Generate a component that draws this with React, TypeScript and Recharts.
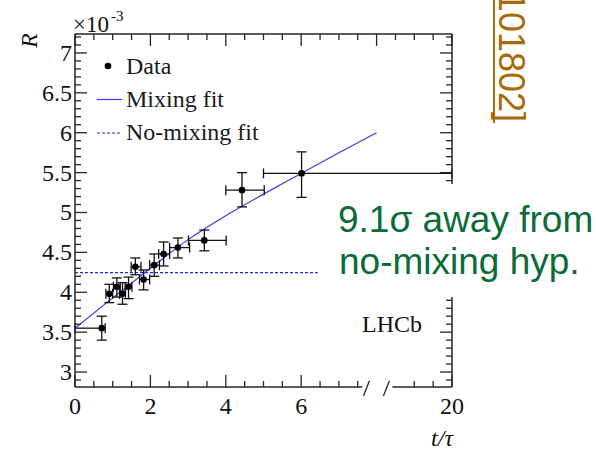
import React from "react";
import {
  ComposedChart,
  XAxis,
  YAxis,
  Scatter,
  Line,
  ErrorBar,
  ReferenceLine,
} from "recharts";

// Measured wrong-sign ratio R (units of 1e-3) in bins of decay time t/τ
const binTime = [0.71, 0.91, 1.11, 1.26, 1.42, 1.6, 1.82, 2.1, 2.35, 2.73, 3.43, 4.43, 6.01];
const binLow = [0, 0.82, 1.02, 1.18, 1.33, 1.49, 1.71, 1.98, 2.22, 2.51, 3.01, 4.0, 5.0];
const binHigh = [0.8, 1.0, 1.2, 1.34, 1.51, 1.75, 1.98, 2.24, 2.51, 3.04, 4.01, 5.02, 20];
const ratio = [3.55, 3.98, 4.07, 3.98, 4.07, 4.32, 4.16, 4.34, 4.48, 4.56, 4.65, 5.28, 5.49];
const ratioLow = [3.4, 3.87, 3.94, 3.85, 3.92, 4.22, 4.03, 4.2, 4.33, 4.43, 4.52, 5.07, 5.19];
const ratioHigh = [3.7, 4.1, 4.18, 4.12, 4.19, 4.43, 4.28, 4.48, 4.63, 4.68, 4.78, 5.5, 5.76];

// Fit curves
const mixTime = [0, 1, 2, 3, 4, 5, 6, 7, 8];
const mixRatio = [3.55, 3.93, 4.3, 4.66, 4.96, 5.23, 5.49, 5.75, 6.0];
const noMixTime = [0, 6.44];
const noMixRatio = [4.245, 4.245];

// Axis labels
const yTickLabels = ["3", "3.5", "4", "4.5", "5", "5.5", "6", "6.5", "7"];
const xTickLabels: Record<string, string> = { "0": "0", "2": "2", "4": "4", "6": "6", "10": "20" };

// Broken time axis: the far segment (t ≥ 18) is shifted left by 10 units
const AXIS_SHIFT = 10;
const toAxis = (t: number) => (t > 10 ? t - AXIS_SHIFT : t);
const BREAK_START = 7.62;
const BREAK_END = 8.42;

const Y_MIN = 2.8125;
const Y_MAX = 7.2375;

const points = binTime.map((t, i) => {
  const u = toAxis(t);
  return {
    u,
    r: ratio[i],
    ex: [u - toAxis(binLow[i]), toAxis(binHigh[i]) - u],
    ey: [ratio[i] - ratioLow[i], ratioHigh[i] - ratio[i]],
  };
});
const mixLine = mixTime.map((t, i) => ({ u: toAxis(t), r: mixRatio[i] }));
const noMixLine = noMixTime.map((t, i) => ({ u: toAxis(t), r: noMixRatio[i] }));

const bottomTicks = [
  0, 0.5, 1, 1.5, 2, 2.5, 3, 3.5, 4, 4.5, 5, 5.5, 6, 6.5, 7, 7.5, 9, 9.5, 10,
];
const topTicks = [0, 0.5, 1, 1.5, 2, 2.5, 3, 3.5, 4, 4.5, 5, 5.5, 6, 6.5, 7, 7.5, 8, 8.5, 9, 9.5, 10];
const yTicks: number[] = [];
for (let k = 29; k <= 72; k++) yTicks.push(k / 10);

const INK = "#262626";
const SERIF = "'Liberation Serif', 'Times New Roman', serif";
const SANS = "'Liberation Sans', Arial, sans-serif";
const MAJOR = 12;
const MINOR = 6;

const isYMajor = (v: number) => Math.abs(v * 2 - Math.round(v * 2)) < 1e-6;

const BottomTick = (p: any) => {
  const v = p.payload.value as number;
  const major = v % 2 === 0 || v === 10;
  const label = xTickLabels[String(v)];
  return (
    <g>
      <line x1={p.x} x2={p.x} y1={p.y} y2={p.y - (major ? MAJOR : MINOR)} stroke={INK} strokeWidth={1.3} />
      {label !== undefined && (
        <text x={p.x} y={p.y + 27} textAnchor="middle" fontFamily={SERIF} fontSize={24} fill="#111">
          {label}
        </text>
      )}
    </g>
  );
};

const TopTick = (p: any) => {
  const v = p.payload.value as number;
  const major = v % 2 === 0;
  return <line x1={p.x} x2={p.x} y1={p.y} y2={p.y + (major ? MAJOR : MINOR)} stroke={INK} strokeWidth={1.3} />;
};

const LeftTick = (p: any) => {
  const v = p.payload.value as number;
  const major = isYMajor(v);
  const idx = Math.round((v - 3) * 2);
  return (
    <g>
      <line x1={p.x} x2={p.x + (major ? MAJOR : MINOR)} y1={p.y} y2={p.y} stroke={INK} strokeWidth={1.3} />
      {major && idx >= 0 && idx < yTickLabels.length && (
        <text x={p.x - 3} y={p.y + 8} textAnchor="end" fontFamily={SERIF} fontSize={24} fill="#111">
          {yTickLabels[idx]}
        </text>
      )}
    </g>
  );
};

const RightTick = (p: any) => {
  const v = p.payload.value as number;
  const major = isYMajor(v);
  return <line x1={p.x} x2={p.x - (major ? MAJOR : MINOR)} y1={p.y} y2={p.y} stroke={INK} strokeWidth={1.3} />;
};

const Dot = (p: any) => <circle cx={p.cx} cy={p.cy} r={3.3} fill="#000" />;

const frameLine = { stroke: INK, strokeWidth: 1.5 };

export default function App() {
  return (
    <div style={{ position: "absolute", left: 0, top: 0, width: 596, height: 451, background: "#fff" }}>
      <ComposedChart
        width={596}
        height={451}
        margin={{ top: 24, right: 134, bottom: 34, left: 15 }}
      >
        <XAxis
          xAxisId="b"
          dataKey="u"
          type="number"
          domain={[0, 10]}
          allowDataOverflow
          ticks={bottomTicks}
          interval={0}
          tickSize={0}
          tickMargin={0}
          height={30}
          axisLine={false}
          tickLine={false}
          tick={BottomTick}
        />
        <XAxis
          xAxisId="t"
          orientation="top"
          dataKey="u"
          type="number"
          domain={[0, 10]}
          allowDataOverflow
          ticks={topTicks}
          interval={0}
          tickSize={0}
          tickMargin={0}
          height={10}
          axisLine={frameLine}
          tickLine={false}
          tick={TopTick}
        />
        <YAxis
          yAxisId="l"
          type="number"
          domain={[Y_MIN, Y_MAX]}
          allowDataOverflow
          ticks={yTicks}
          interval={0}
          tickSize={0}
          tickMargin={0}
          width={60}
          axisLine={frameLine}
          tickLine={false}
          tick={LeftTick}
        />
        <YAxis
          yAxisId="r"
          orientation="right"
          type="number"
          domain={[Y_MIN, Y_MAX]}
          allowDataOverflow
          ticks={yTicks}
          interval={0}
          tickSize={0}
          tickMargin={0}
          width={10}
          axisLine={frameLine}
          tickLine={false}
          tick={RightTick}
        />

        {/* bottom frame with the axis break */}
        <ReferenceLine
          xAxisId="b"
          yAxisId="l"
          ifOverflow="visible"
          segment={[{ x: 0, y: Y_MIN }, { x: BREAK_START, y: Y_MIN }]}
          {...frameLine}
        />
        <ReferenceLine
          xAxisId="b"
          yAxisId="l"
          ifOverflow="visible"
          segment={[{ x: BREAK_END, y: Y_MIN }, { x: 10, y: Y_MIN }]}
          {...frameLine}
        />
        <ReferenceLine
          xAxisId="b"
          yAxisId="l"
          ifOverflow="visible"
          segment={[{ x: 7.65, y: 2.7 }, { x: 7.81, y: 2.89 }]}
          stroke={INK}
          strokeWidth={1.3}
        />
        <ReferenceLine
          xAxisId="b"
          yAxisId="l"
          ifOverflow="visible"
          segment={[{ x: 8.18, y: 2.7 }, { x: 8.34, y: 2.89 }]}
          stroke={INK}
          strokeWidth={1.3}
        />

        <Line
          xAxisId="b"
          yAxisId="l"
          data={noMixLine}
          dataKey="r"
          type="linear"
          stroke="#2424ff"
          strokeWidth={1.2}
          strokeDasharray="3 2"
          dot={false}
          isAnimationActive={false}
        />
        <Line
          xAxisId="b"
          yAxisId="l"
          data={mixLine}
          dataKey="r"
          type="monotone"
          stroke="#3a3af5"
          strokeWidth={1.2}
          dot={false}
          isAnimationActive={false}
        />
        <Scatter
          xAxisId="b"
          yAxisId="l"
          data={points}
          dataKey="r"
          shape={Dot}
          isAnimationActive={false}
        >
          <ErrorBar dataKey="ex" direction="x" width={5} stroke="#111" strokeWidth={1.3} />
          <ErrorBar dataKey="ey" direction="y" width={5} stroke="#111" strokeWidth={1.3} />
        </Scatter>
      </ComposedChart>

      <svg
        width={596}
        height={451}
        style={{ position: "absolute", left: 0, top: 0, pointerEvents: "none" }}
      >
        {/* axis titles */}
        <text
          x={37}
          y={48}
          transform="rotate(-90 37 48)"
          fontFamily={SERIF}
          fontStyle="italic"
          fontSize={24}
          fill="#111"
        >
          R
        </text>
        <text x={73} y={32} fontFamily={SERIF} fontSize={23} fill="#111">
          ×10
        </text>
        <text x={111} y={21} fontFamily={SERIF} fontSize={15} fill="#111">
          -3
        </text>
        <text x={453} y={446} textAnchor="end" fontFamily={SERIF} fontStyle="italic" fontSize={24} fill="#111">
          t/τ
        </text>

        {/* legend */}
        <circle cx={108} cy={66} r={3.3} fill="#000" />
        <text x={126} y={74} fontFamily={SERIF} fontSize={24} fill="#1a1a1a">
          Data
        </text>
        <line x1={97} x2={122} y1={99.5} y2={99.5} stroke="#3a3af5" strokeWidth={1.2} />
        <text x={126} y={107} fontFamily={SERIF} fontSize={24} fill="#1a1a1a">
          Mixing fit
        </text>
        <line x1={97} x2={122} y1={133} y2={133} stroke="#2424ff" strokeWidth={1.2} strokeDasharray="3 2" />
        <text x={126} y={140} fontFamily={SERIF} fontSize={24} fill="#1a1a1a">
          No-mixing fit
        </text>

        <text x={362} y={332} fontFamily={SERIF} fontSize={24} fill="#111">
          LHCb
        </text>

        {/* significance note on a white box laid over the plot edge */}
        <rect x={318} y={184} width={278} height={113} fill="#fff" />
        <text x={338} y={232} fontFamily={SANS} fontSize={37} fill="#0c6b38">
          9.1σ away from
        </text>
        <text x={339} y={274} fontFamily={SANS} fontSize={37} fill="#0c6b38">
          no-mixing hyp.
        </text>

        {/* reference link */}
        <text
          x={499}
          y={122}
          transform="rotate(90 499 122)"
          textAnchor="end"
          fontFamily={SANS}
          fontSize={36}
          fill="#a86a08"
        >
          101802]
        </text>
        <line x1={494} x2={494} y1={0} y2={123} stroke="#a86a08" strokeWidth={2} />
      </svg>
    </div>
  );
}
